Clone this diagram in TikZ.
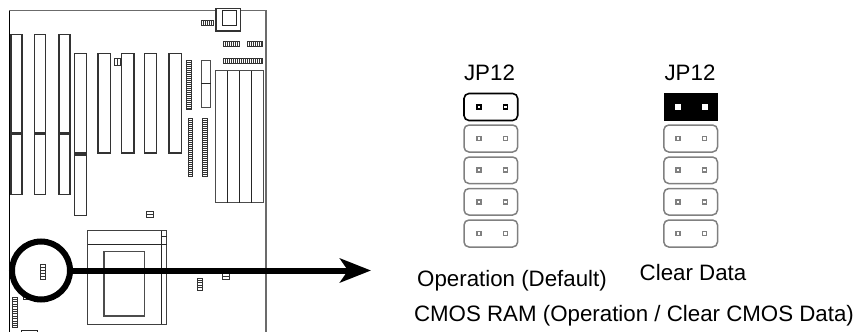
\documentclass[tikz,border=0pt]{standalone}
\usepackage{fontspec}
\setmainfont{Liberation Sans}
\usetikzlibrary{arrows.meta}
\definecolor{gline}{gray}{0.42}
\definecolor{pinrim}{gray}{0.5}
\tikzset{
  part/.style={draw=black!85,line width=0.9pt},
  slot/.style={draw=black!80,line width=1.1pt,fill=white},
  ladder/.style={draw=black!80,line width=0.8pt},
  jumper/.style={draw=pinrim,line width=1.5pt,rounded corners=5pt},
  jumperon/.style={draw=black,line width=1.6pt,rounded corners=5pt},
  lbl/.style={font=\fontsize{22.3}{26}\selectfont,text=black,inner sep=0pt,anchor=base},
}
\newcommand{\vlad}[5]{%
  \draw[ladder] (#1,#2) rectangle (#3,#4);
  \pgfmathsetmacro{\stepA}{#1+#5}\pgfmathsetmacro{\stepB}{#1+2*#5}
  \foreach \q in {\stepA,\stepB,...,#3} \draw[ladder,line width=0.7pt] (\q,#2) -- (\q,#4);}
\newcommand{\hlad}[5]{%
  \draw[ladder] (#1,#2) rectangle (#3,#4);
  \pgfmathsetmacro{\stepA}{#2+#5}\pgfmathsetmacro{\stepB}{#2+2*#5}
  \foreach \q in {\stepA,\stepB,...,#4} \draw[ladder,line width=0.7pt] (#1,\q) -- (#3,\q);}
\newcommand{\jpins}[4]{%
  \draw[draw=#4,line width=1.7pt] ({#1-1.9},{#3-1.9}) rectangle ({#1+1.9},{#3+1.9});
  \draw[draw=#4,line width=1.7pt] ({#2-1.9},{#3-1.9}) rectangle ({#2+1.9},{#3+1.9});}
\begin{document}
\begin{tikzpicture}[x=1pt,y=-1pt]
\useasboundingbox (0,0) rectangle (855,332);
\fill[white] (0,0) rectangle (855,332);

% board outline (open at the bottom)
\draw[draw=gline,line width=1.1pt] (9.5,332) -- (9.5,10.5) -- (266,10.5) -- (266,332);
\draw[draw=black,line width=1pt] (9.5,332) -- (9.5,10.5);

% expansion slots
\foreach \xa/\xb in {11/22,34.5/45.5,59/70}{
  \draw[slot] (\xa,34.5) rectangle (\xb,133);
  \draw[slot] (\xa,134) rectangle (\xb,194.5);
}
\draw[slot] (74.5,53.5) rectangle (86.5,153);
\draw[slot] (74.5,155) rectangle (86.5,215.5);
\foreach \xa/\xb in {98/110.5,121.5/134,144.5/156.5,169/181.5}{
  \draw[slot] (\xa,53.5) rectangle (\xb,153);
}
\vlad{114}{58.5}{120.5}{65.5}{3}

% socket at the top
\draw[slot] (216,8.5) rectangle (240.5,31);
\draw[part] (222,10) rectangle (236.5,25);

% headers upper right
\vlad{201}{20}{213}{25}{2}
\vlad{223.5}{41}{239}{46.5}{2}
\vlad{247}{41}{262}{46.5}{2}
\vlad{223.5}{58}{262}{63}{2}

% dense strips
\hlad{186}{60}{191.5}{109}{2}
\hlad{188}{118}{192.5}{176}{2}
\hlad{202}{118}{207.5}{176}{2}

% two small modules
\draw[part,draw=black!70] (201,60) rectangle (210.5,107);
\draw[part] (201,83.5) -- (210.5,83.5);

% memory bank
\draw[part,draw=black!70] (215.5,70.5) rectangle (263.5,202.5);
\foreach \x in {227.5,239.5,251.5}{\draw[part] (\x,70.5) -- (\x,202.5);}

% small parts
\hlad{146.5}{211}{153.5}{217.5}{3}
\hlad{222.5}{273}{229.5}{279.5}{3}
\hlad{197}{278}{202}{290}{2.4}
\hlad{12.5}{297}{17.5}{327}{2.4}
\draw[part] (21,332) -- (21,330) -- (37,330) -- (37,332);
\draw[part] (23,296) -- (23,299.5) -- (28,299.5);

% processor block
\draw[part,draw=black!75] (87.5,230.5) rectangle (166.5,324);
\draw[part] (87.5,244.5) -- (166.5,244.5);
\draw[part] (161.5,230.5) -- (161.5,324);
\draw[part] (161.5,236) -- (166.5,236);
\draw[part,draw=black!70,line width=1.1pt] (104,251.5) rectangle (144.5,316);

% jumper near the ring
\hlad{40.5}{264.5}{45.5}{279}{2.9}

% ring and arrow
\node[circle,draw=black,line width=6pt,minimum size=58pt,inner sep=0pt] (ring) at (41,270.5) {};
\coordinate (tip) at (371,270.5);
\draw[-{Stealth[length=31pt,width=24pt,inset=8pt]},line width=6pt,draw=black] (ring.east) -- (tip);

% jumper columns
\foreach \cx/\pa/\pb in {464/479/505.5,663.8/678/704.5}{
  \foreach \ya/\yb/\ym in {125/152/138.5,157/183.5/170.2,188.5/215/201.8,220/247/233.5}{
    \draw[jumper] (\cx,\ya) rectangle (\cx+53.7,\yb);
    \jpins{\pa}{\pb}{\ym}{pinrim}
  }
}
\draw[jumperon,fill=white] (464,93.5) rectangle (517.7,120.5);
\jpins{479}{505.5}{107}{black}
\fill[black] (663.5,93) rectangle (718,121);
\fill[white] (675,104) rectangle (681,110);
\fill[white] (701.5,104) rectangle (707.5,110);

% labels
\node[lbl] (jpa) at (489.5,80) {JP12};
\node[lbl] (jpb) at (690,80) {JP12};
\node[lbl] (opl) at (512,286.7) {Operation (Default)};
\node[lbl] (cdl) at (693,280.7) {Clear Data};
\node[lbl] (cap) at (634,321.7) {CMOS RAM (Operation / Clear CMOS Data)};
\end{tikzpicture}
\end{document}
